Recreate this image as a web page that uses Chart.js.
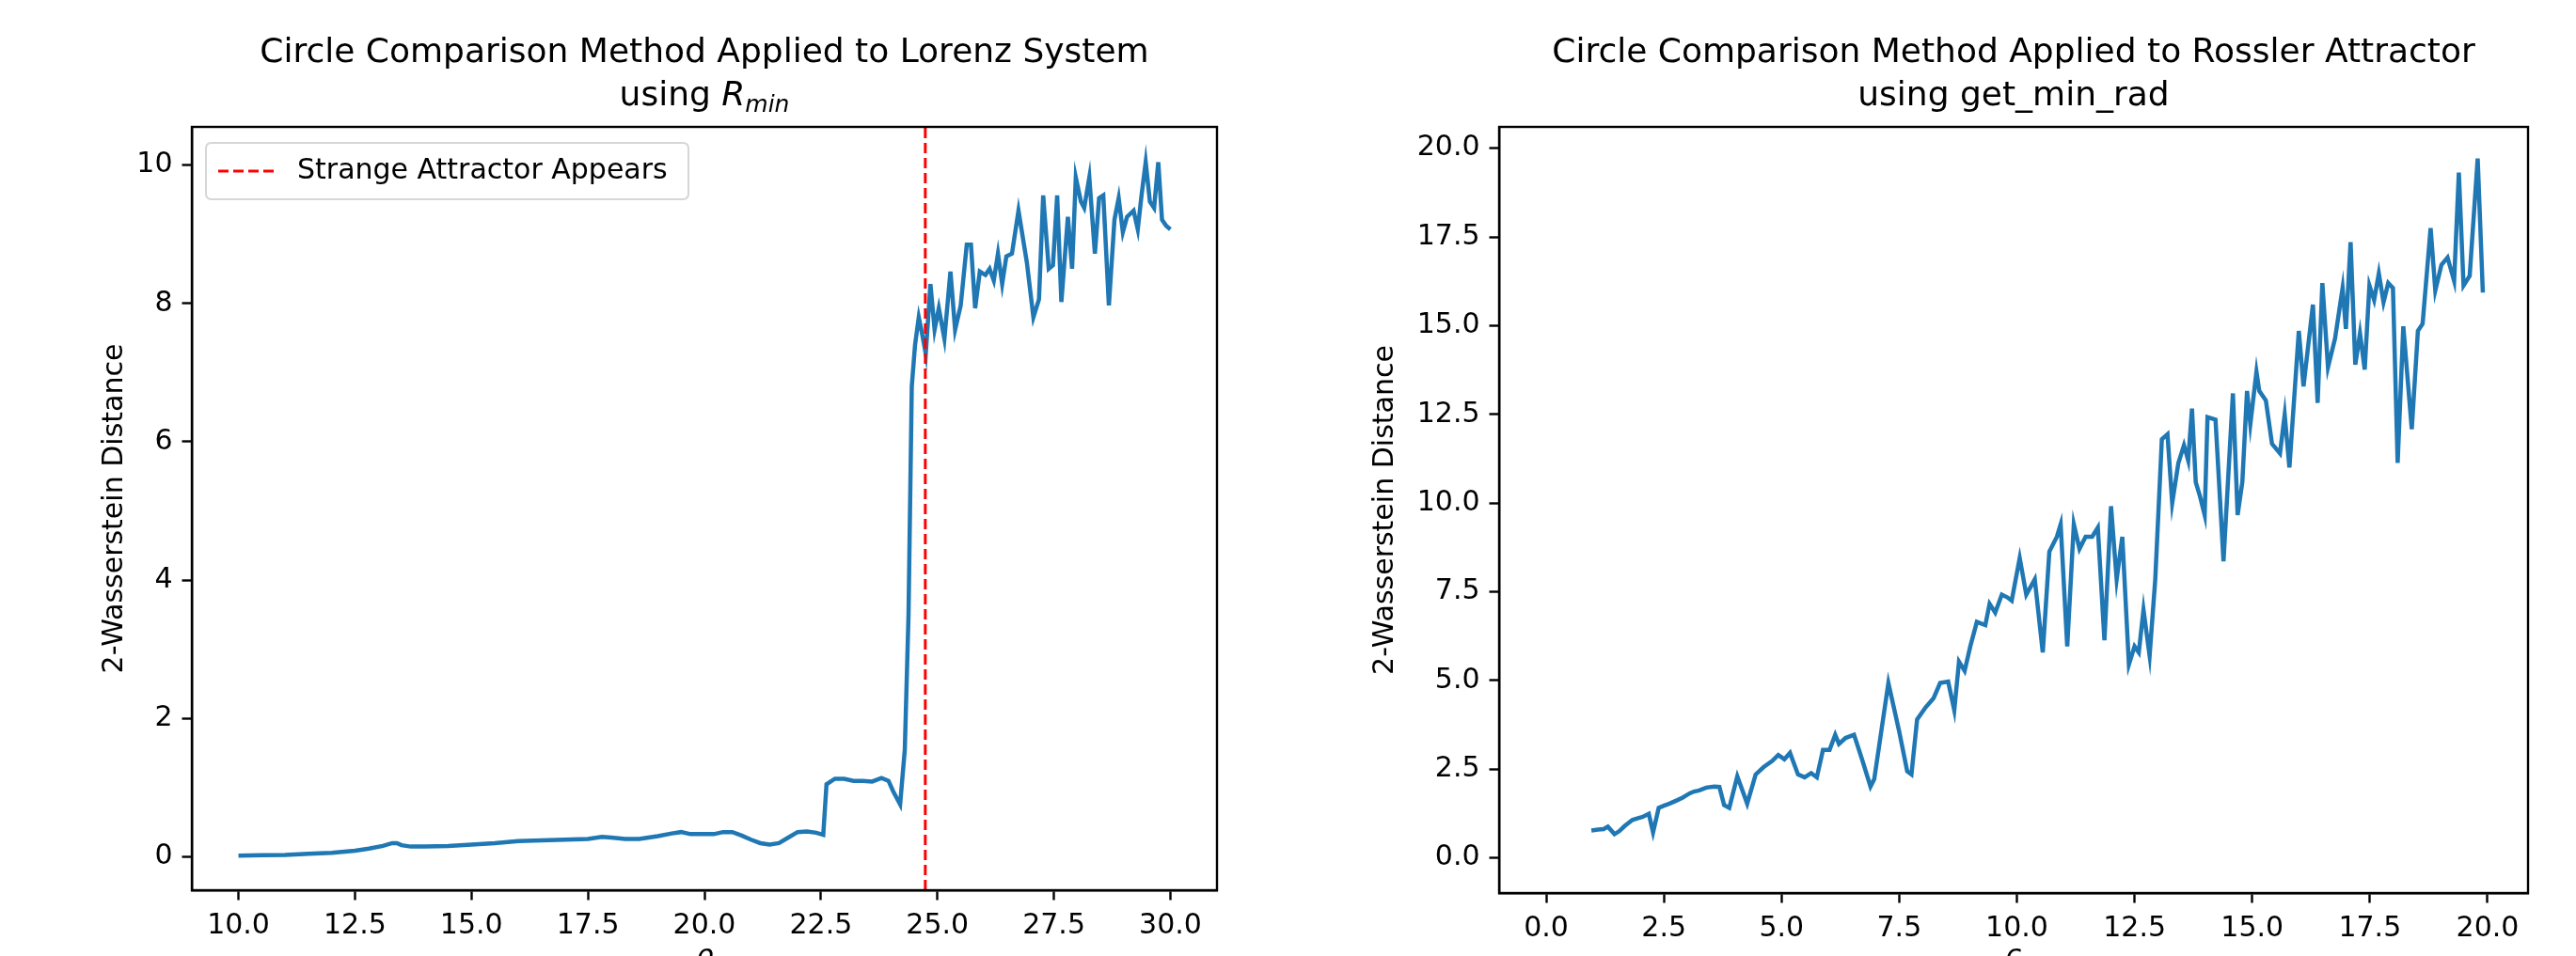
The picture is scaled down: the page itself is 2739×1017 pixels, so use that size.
<!DOCTYPE html>
<html><head><meta charset="utf-8">
<script src="https://cdn.jsdelivr.net/npm/chart.js@4.4.0/dist/chart.umd.min.js"></script>
<style>
html,body{margin:0;padding:0;background:#fff;overflow:hidden;width:2739px;height:1017px}
#c1{position:absolute;left:0;top:0}
#c2{position:absolute;left:1400px;top:0}
</style></head><body>
<canvas id="c1" width="1400" height="1100"></canvas>
<canvas id="c2" width="1339" height="1100"></canvas>
<script>
// ---------- data ----------
const lorenzRho = [10.0,10.5,11.0,11.5,12.0,12.5,12.8,13.1,13.3,13.4,13.5,13.7,14.0,14.5,15.0,15.5,16.0,16.5,17.0,17.5,17.8,18.0,18.3,18.6,19.0,19.3,19.5,19.7,20.0,20.2,20.4,20.6,20.8,21.0,21.2,21.4,21.6,21.8,22.0,22.2,22.4,22.55,22.62,22.8,23.0,23.2,23.4,23.6,23.8,23.95,24.05,24.2,24.3,24.38,24.45,24.52,24.6,24.66,24.75,24.85,24.94,25.03,25.15,25.28,25.38,25.5,25.63,25.72,25.81,25.91,26.03,26.12,26.21,26.3,26.39,26.48,26.6,26.74,26.92,27.06,27.18,27.27,27.39,27.48,27.57,27.66,27.8,27.89,27.97,28.08,28.15,28.26,28.38,28.47,28.56,28.68,28.8,28.89,28.98,29.07,29.21,29.3,29.38,29.47,29.56,29.65,29.74,29.82,29.91,30.0];
const lorenzDist = [0.02,0.025,0.03,0.045,0.06,0.09,0.12,0.16,0.2,0.2,0.17,0.15,0.15,0.16,0.18,0.2,0.23,0.24,0.25,0.26,0.29,0.28,0.26,0.26,0.3,0.34,0.36,0.33,0.33,0.33,0.36,0.36,0.31,0.25,0.2,0.18,0.2,0.28,0.36,0.37,0.35,0.32,1.05,1.13,1.13,1.1,1.1,1.09,1.14,1.1,0.95,0.76,1.55,3.5,6.8,7.4,7.8,7.6,7.27,8.28,7.62,7.93,7.49,8.46,7.62,7.97,8.85,8.85,7.93,8.46,8.41,8.5,8.33,8.72,8.28,8.68,8.72,9.34,8.59,7.8,8.06,9.56,8.5,8.55,9.56,8.02,9.25,8.5,9.82,9.47,9.38,9.82,8.72,9.52,9.56,7.97,9.21,9.52,9.03,9.25,9.34,9.07,9.56,10.04,9.47,9.38,10.04,9.21,9.12,9.07];
const lorenzAttractorRho = 24.74;
const lorenzXTicks = [10.0,12.5,15.0,17.5,20.0,22.5,25.0,27.5,30.0];
const lorenzYTicks = [0,2,4,6,8,10];
const lorenzXRange = [9.0,31.0];
const lorenzYRange = [-0.48,10.55];

const rosslerParam = [0.96,1.1,1.22,1.31,1.45,1.55,1.66,1.83,1.95,2.04,2.18,2.27,2.39,2.5,2.62,2.79,2.9,2.96,3.05,3.14,3.25,3.4,3.57,3.68,3.78,3.89,4.06,4.27,4.45,4.62,4.8,4.93,5.06,5.18,5.35,5.49,5.63,5.75,5.88,6.02,6.14,6.22,6.36,6.54,6.71,6.89,6.97,7.27,7.5,7.67,7.76,7.88,8.06,8.23,8.37,8.54,8.67,8.77,8.89,9.01,9.15,9.33,9.42,9.54,9.68,9.8,9.89,10.06,10.2,10.38,10.55,10.69,10.85,10.93,11.07,11.21,11.33,11.46,11.6,11.72,11.86,12.0,12.12,12.24,12.38,12.5,12.59,12.69,12.82,12.94,13.08,13.2,13.3,13.43,13.55,13.64,13.72,13.8,13.89,13.99,14.05,14.22,14.39,14.59,14.69,14.79,14.89,14.96,15.09,15.15,15.29,15.42,15.59,15.69,15.79,15.99,16.09,16.29,16.39,16.49,16.61,16.76,16.92,16.99,17.09,17.19,17.29,17.39,17.49,17.59,17.69,17.79,17.89,17.99,18.09,18.21,18.39,18.52,18.62,18.79,18.89,19.02,19.15,19.29,19.39,19.49,19.62,19.79,19.9];
const rosslerDist = [0.77,0.8,0.81,0.88,0.67,0.75,0.89,1.07,1.12,1.15,1.24,0.72,1.41,1.47,1.53,1.63,1.7,1.75,1.82,1.87,1.9,1.98,2.01,2.0,1.49,1.41,2.3,1.53,2.35,2.56,2.73,2.9,2.78,2.96,2.35,2.27,2.39,2.27,3.04,3.04,3.47,3.21,3.38,3.47,2.78,2.01,2.22,4.93,3.56,2.44,2.35,3.9,4.24,4.5,4.93,4.97,4.16,5.53,5.27,5.96,6.65,6.56,7.16,6.91,7.42,7.34,7.25,8.45,7.42,7.85,5.79,8.63,9.05,9.4,5.96,9.4,8.71,9.05,9.05,9.31,6.13,9.91,7.85,9.05,5.45,5.96,5.79,6.99,5.7,7.85,11.8,11.94,10.0,11.12,11.63,11.2,12.66,10.59,10.19,9.66,12.42,12.35,8.36,13.09,9.66,10.59,13.16,12.22,13.7,13.16,12.89,11.67,11.4,12.49,11.0,14.85,13.29,15.59,12.82,16.2,13.83,14.64,16.06,14.91,17.35,13.9,14.78,13.76,16.13,15.72,16.47,15.66,16.2,16.06,11.13,14.98,12.08,14.85,15.05,17.75,15.99,16.71,16.92,16.26,19.31,16.13,16.4,19.71,15.93];
const rosslerXTicks = [0.0,2.5,5.0,7.5,10.0,12.5,15.0,17.5,20.0];
const rosslerYTicks = [0.0,2.5,5.0,7.5,10.0,12.5,15.0,17.5,20.0];
const rosslerXRange = [-1.0,20.86];
const rosslerYRange = [-0.99,20.6];

// ---------- styling ----------
const FONT = "'DejaVu Sans', sans-serif";
const BLUE = '#1f77b4';
const CANVAS_H = 1100;

const decor = {
  id: 'mplDecor',
  afterDraw(chart, args, o) {
    const ctx = chart.ctx, a = chart.chartArea;
    ctx.save();
    ctx.strokeStyle = '#000'; ctx.lineWidth = 2.4; ctx.setLineDash([]);
    ctx.strokeRect(a.left, a.top, a.right - a.left, a.bottom - a.top);
    const cx = (a.left + a.right) / 2;
    ctx.fillStyle = '#000'; ctx.textBaseline = 'alphabetic';
    ctx.font = '36px ' + FONT; ctx.textAlign = 'center';
    ctx.fillText(o.title1, cx, o.base1);
    let w = 0;
    o.title2.forEach(p => { ctx.font = p.font; p.w = ctx.measureText(p.text).width; w += p.w; });
    let x = cx - w / 2; ctx.textAlign = 'left';
    o.title2.forEach(p => { ctx.font = p.font; ctx.fillText(p.text, x, o.base2 + (p.dy || 0)); x += p.w; });
    if (o.legend) {
      const ds = chart.data.datasets[o.legend.dataset];
      const L = a.left + 15, T = a.top + 17, W = 513, H = 60, r = 6;
      ctx.beginPath();
      ctx.moveTo(L + r, T); ctx.lineTo(L + W - r, T); ctx.quadraticCurveTo(L + W, T, L + W, T + r);
      ctx.lineTo(L + W, T + H - r); ctx.quadraticCurveTo(L + W, T + H, L + W - r, T + H);
      ctx.lineTo(L + r, T + H); ctx.quadraticCurveTo(L, T + H, L, T + H - r);
      ctx.lineTo(L, T + r); ctx.quadraticCurveTo(L, T, L + r, T); ctx.closePath();
      ctx.fillStyle = 'rgba(255,255,255,0.8)'; ctx.fill();
      ctx.strokeStyle = '#d6d6d6'; ctx.lineWidth = 2; ctx.stroke();
      const ym = T + H / 2;
      ctx.strokeStyle = ds.borderColor; ctx.lineWidth = ds.borderWidth; ctx.setLineDash(ds.borderDash);
      ctx.beginPath(); ctx.moveTo(L + 13, ym); ctx.lineTo(L + 73, ym); ctx.stroke();
      ctx.setLineDash([]);
      ctx.fillStyle = '#000'; ctx.font = '30px ' + FONT; ctx.textBaseline = 'middle'; ctx.textAlign = 'left';
      ctx.fillText(ds.label, L + 97, ym);
    }
    ctx.restore();
  }
};

function axis(range, ticks, fmt, fit, title) {
  return {
    type: 'linear', min: range[0], max: range[1],
    afterBuildTicks: s => { s.ticks = ticks.map(v => ({ value: v })); },
    afterFit: fit,
    grid: { display: true, drawOnChartArea: false, drawTicks: true, tickLength: 10.5, tickWidth: 2.4, tickColor: '#000' },
    border: { display: true, color: '#000', width: 2.4 },
    ticks: { font: { family: FONT, size: 30 }, color: '#000', padding: 10, maxRotation: 0, minRotation: 0, autoSkip: false, callback: fmt },
    title: title
  };
}

function makeChart(id, cfg) {
  return new Chart(document.getElementById(id), {
    type: 'line',
    data: { datasets: cfg.datasets },
    options: {
      responsive: false, animation: false, devicePixelRatio: 1,
      layout: { padding: { left: 0, right: cfg.padRight, top: 135, bottom: 0 } },
      elements: { point: { radius: 0 }, line: { tension: 0 } },
      plugins: { legend: { display: false }, title: { display: false }, tooltip: { enabled: false }, mplDecor: cfg.decor },
      scales: {
        x: axis(cfg.xRange, cfg.xTicks, v => Number(v).toFixed(1), s => { s.height = CANVAS_H - cfg.bottom; },
          { display: true, text: cfg.xTitle, color: '#000', font: { family: FONT, size: 30, style: 'italic' }, padding: { top: 0, bottom: 64 } }),
        y: axis(cfg.yRange, cfg.yTicks, cfg.yFmt, s => { s.width = cfg.yWidth; },
          { display: true, text: '2-Wasserstein Distance', color: '#000', font: { family: FONT, size: 30 }, padding: { top: cfg.yTitlePad, bottom: 0 } })
      }
    },
    plugins: [decor]
  });
}

makeChart('c1', {
  datasets: [
    { label: 'Lorenz', data: lorenzRho.map((x, i) => ({ x: x, y: lorenzDist[i] })), borderColor: BLUE, borderWidth: 4.5, fill: false, order: 1 },
    { label: 'Strange Attractor Appears', data: [{ x: lorenzAttractorRho, y: lorenzYRange[0] }, { x: lorenzAttractorRho, y: lorenzYRange[1] }],
      borderColor: '#ff0000', borderWidth: 3, borderDash: [11, 5], fill: false, order: 0 }
  ],
  padRight: 106, yWidth: 204, bottom: 947, yTitlePad: 104,
  xRange: lorenzXRange, yRange: lorenzYRange, xTicks: lorenzXTicks, yTicks: lorenzYTicks,
  yFmt: v => String(v), xTitle: 'ρ',
  decor: {
    title1: 'Circle Comparison Method Applied to Lorenz System', base1: 66, base2: 112,
    title2: [ { text: 'using ', font: '36px ' + FONT }, { text: 'R', font: 'italic 36px ' + FONT }, { text: 'min', font: 'italic 25px ' + FONT, dy: 7 } ],
    legend: { dataset: 1 }
  }
});

makeChart('c2', {
  datasets: [
    { label: 'Rossler', data: rosslerParam.map((x, i) => ({ x: x, y: rosslerDist[i] })), borderColor: BLUE, borderWidth: 4.5, fill: false }
  ],
  padRight: 51, yWidth: 194, bottom: 950, yTitlePad: 55,
  xRange: rosslerXRange, yRange: rosslerYRange, xTicks: rosslerXTicks, yTicks: rosslerYTicks,
  yFmt: v => Number(v).toFixed(1), xTitle: 'c',
  decor: {
    title1: 'Circle Comparison Method Applied to Rossler Attractor', base1: 66, base2: 112,
    title2: [ { text: 'using get_min_rad', font: '36px ' + FONT } ]
  }
});
</script>
</body></html>
